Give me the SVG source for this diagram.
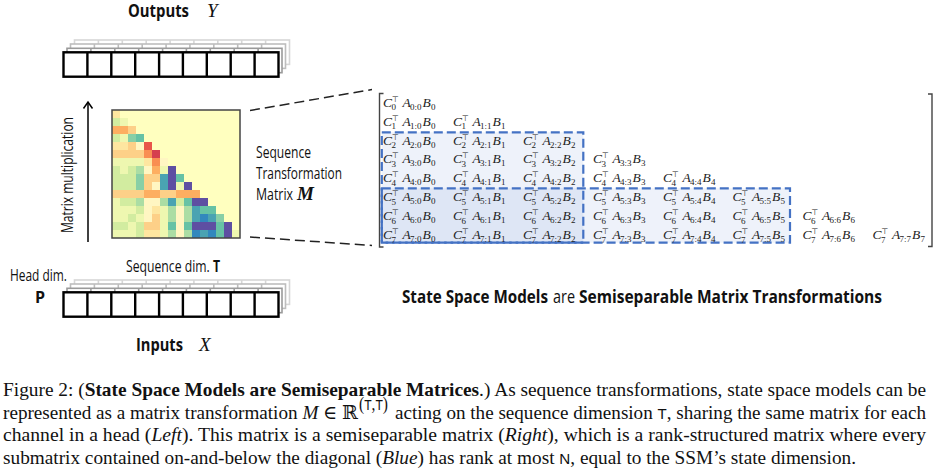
<svg xmlns="http://www.w3.org/2000/svg" xmlns:xlink="http://www.w3.org/1999/xlink" width="938" height="470" viewBox="0 0 938 470">
<style>
.sans{font-family:"Open Sans","DejaVu Sans",sans-serif}
.bold{font-weight:bold}
.lbl{font-family:"Open Sans","DejaVu Sans",sans-serif;font-size:16px;fill:#111}
.var{font-family:"Liberation Serif","DejaVu Serif",serif;font-style:italic;font-size:19px;fill:#111}
.m{font-family:"Liberation Serif","DejaVu Serif",serif;font-style:italic;font-size:13.5px;fill:#222}
.m .s{font-style:normal;font-size:9px}
.m .tp{font-style:normal;font-family:"DejaVu Sans",sans-serif;font-size:8px}
.cap{font-family:"Liberation Serif","DejaVu Serif",serif;font-size:19px;fill:#111}
.sf{font-family:"Liberation Sans","DejaVu Sans",sans-serif;font-size:15px}
.R1{fill:#d53e4f}.R2{fill:#e8554a}.O{fill:#f98e52}.O2{fill:#fdae61}.LO{fill:#fdd088}.PY{fill:#fee6a0}.LY{fill:#fff6c2}.YG{fill:#eef7b0}.LG{fill:#d2eca0}.G{fill:#abdda4}.TG{fill:#88cfa6}.T{fill:#66c2a5}.TB{fill:#4aa3b2}.B{fill:#3288bd}.P{fill:#5e4fa2}
.blk{fill:rgba(68,114,196,0.09);stroke:#4472c4;stroke-width:2.2;stroke-dasharray:9 4}
.dash{stroke:#222;stroke-width:1.5;stroke-dasharray:10 5;fill:none}
</style>
<defs>
<g id="row9">
<rect x="0" y="0" width="215" height="24.4"/>
<path d="M23.9 0v24.4M47.8 0v24.4M71.7 0v24.4M95.6 0v24.4M119.4 0v24.4M143.3 0v24.4M167.2 0v24.4M191.1 0v24.4"/>
</g>
<g id="tensor">
<use xlink:href="#row9" transform="translate(11,-12.3)" fill="#fff" stroke="#d6d6d6" stroke-width="1.6"/>
<use xlink:href="#row9" transform="translate(7,-8.3)" fill="#fff" stroke="#bdbdbd" stroke-width="1.6"/>
<use xlink:href="#row9" transform="translate(3.5,-4)" fill="#fff" stroke="#9a9a9a" stroke-width="1.6"/>
<use xlink:href="#row9" fill="#fff" stroke="#000" stroke-width="2.4"/>
</g>
</defs>

<g id="outputs">
<text class="sans bold" x="128" y="17" font-size="18" textLength="61" lengthAdjust="spacingAndGlyphs" fill="#111">Outputs</text>
<text class="var" x="207" y="17">Y</text>
<use xlink:href="#tensor" transform="translate(63.5,52.3)"/>
</g>

<g id="inputs">
<text class="lbl" x="126" y="272" textLength="94" lengthAdjust="spacingAndGlyphs">Sequence dim. <tspan class="bold">T</tspan></text>
<text class="lbl" x="10" y="280.5" font-size="15" textLength="57" lengthAdjust="spacingAndGlyphs">Head dim.</text>
<text class="lbl bold" x="35" y="302.5">P</text>
<use xlink:href="#tensor" transform="translate(63.5,292.3)"/>
<text class="sans bold" x="136" y="351" font-size="18" textLength="47" lengthAdjust="spacingAndGlyphs" fill="#111">Inputs</text>
<text class="var" x="199" y="351">X</text>
</g>

<g id="matmul">
<line x1="88" y1="242" x2="88" y2="102.5" stroke="#000" stroke-width="1.5"/>
<polyline points="83.5,108.5 88,102 92.5,108.5" fill="none" stroke="#000" stroke-width="1.5"/>
<text class="lbl" font-size="14.5" transform="translate(73,175) rotate(-90)" text-anchor="middle" textLength="116" lengthAdjust="spacingAndGlyphs">Matrix multiplication</text>
</g>

<g id="heatmap">
<rect x="112" y="110" width="128" height="128" fill="#ffffbf"/>
<g>
<rect class="PY" x="112" y="110" width="8" height="8"/>
<rect class="LG" x="112" y="118" width="8" height="8"/><rect class="YG" x="120" y="118" width="8" height="8"/>
<rect class="O2" x="112" y="126" width="8" height="8"/><rect class="O2" x="120" y="126" width="8" height="8"/><rect class="LO" x="128" y="126" width="8" height="8"/>
<rect class="LG" x="112" y="134" width="8" height="8"/><rect class="YG" x="120" y="134" width="8" height="8"/><rect class="TG" x="128" y="134" width="8" height="8"/><rect class="T" x="136" y="134" width="8" height="8"/>
<rect class="PY" x="112" y="142" width="8" height="8"/><rect class="PY" x="120" y="142" width="8" height="8"/><rect class="LO" x="128" y="142" width="8" height="8"/><rect class="LY" x="136" y="142" width="8" height="8"/><rect class="R2" x="144" y="142" width="8" height="8"/>
<rect class="LO" x="112" y="150" width="8" height="8"/><rect class="LO" x="120" y="150" width="8" height="8"/><rect class="LO" x="128" y="150" width="8" height="8"/><rect class="LO" x="136" y="150" width="8" height="8"/><rect class="O" x="144" y="150" width="8" height="8"/><rect class="R1" x="152" y="150" width="8" height="8"/>
<rect class="YG" x="112" y="158" width="8" height="8"/><rect class="YG" x="120" y="158" width="8" height="8"/><rect class="YG" x="128" y="158" width="8" height="8"/><rect class="YG" x="136" y="158" width="8" height="8"/><rect class="PY" x="144" y="158" width="8" height="8"/><rect class="O" x="152" y="158" width="8" height="8"/><rect class="LY" x="160" y="158" width="8" height="8"/>
<rect class="LG" x="112" y="166" width="8" height="8"/><rect class="YG" x="120" y="166" width="8" height="8"/><rect class="LG" x="128" y="166" width="8" height="8"/><rect class="G" x="136" y="166" width="8" height="8"/><rect class="LY" x="144" y="166" width="8" height="8"/><rect class="O2" x="152" y="166" width="8" height="8"/><rect class="YG" x="160" y="166" width="8" height="8"/><rect class="P" x="168" y="166" width="8" height="8"/>
<rect class="LG" x="112" y="174" width="8" height="8"/><rect class="LG" x="120" y="174" width="8" height="8"/><rect class="LG" x="128" y="174" width="8" height="8"/><rect class="TG" x="136" y="174" width="8" height="8"/><rect class="LO" x="144" y="174" width="8" height="8"/><rect class="LO" x="152" y="174" width="8" height="8"/><rect class="TB" x="160" y="174" width="8" height="8"/><rect class="P" x="168" y="174" width="8" height="8"/><rect class="T" x="176" y="174" width="8" height="8"/>
<rect class="LG" x="112" y="182" width="8" height="8"/><rect class="LG" x="120" y="182" width="8" height="8"/><rect class="LG" x="128" y="182" width="8" height="8"/><rect class="TG" x="136" y="182" width="8" height="8"/><rect class="LO" x="144" y="182" width="8" height="8"/><rect class="LY" x="152" y="182" width="8" height="8"/><rect class="TB" x="160" y="182" width="8" height="8"/><rect class="P" x="168" y="182" width="8" height="8"/><rect class="YG" x="176" y="182" width="8" height="8"/><rect class="P" x="184" y="182" width="8" height="8"/>
<rect class="LO" x="112" y="190" width="8" height="8"/><rect class="LO" x="120" y="190" width="8" height="8"/><rect class="LO" x="128" y="190" width="8" height="8"/><rect class="LO" x="136" y="190" width="8" height="8"/><rect class="O2" x="144" y="190" width="8" height="8"/><rect class="O2" x="152" y="190" width="8" height="8"/><rect class="LO" x="160" y="190" width="8" height="8"/><rect class="LO" x="168" y="190" width="8" height="8"/><rect class="O2" x="176" y="190" width="8" height="8"/><rect class="O2" x="184" y="190" width="8" height="8"/><rect class="O2" x="192" y="190" width="8" height="8"/>
<rect class="YG" x="112" y="198" width="8" height="8"/><rect class="LG" x="120" y="198" width="8" height="8"/><rect class="LG" x="128" y="198" width="8" height="8"/><rect class="G" x="136" y="198" width="8" height="8"/><rect class="LY" x="144" y="198" width="8" height="8"/><rect class="LY" x="152" y="198" width="8" height="8"/><rect class="G" x="160" y="198" width="8" height="8"/><rect class="TB" x="168" y="198" width="8" height="8"/><rect class="LG" x="176" y="198" width="8" height="8"/><rect class="T" x="184" y="198" width="8" height="8"/><rect class="P" x="192" y="198" width="8" height="8"/><rect class="P" x="200" y="198" width="8" height="8"/>
<rect class="YG" x="112" y="206" width="8" height="8"/><rect class="YG" x="120" y="206" width="8" height="8"/><rect class="YG" x="128" y="206" width="8" height="8"/><rect class="LG" x="136" y="206" width="8" height="8"/><rect class="LY" x="144" y="206" width="8" height="8"/><rect class="PY" x="152" y="206" width="8" height="8"/><rect class="YG" x="160" y="206" width="8" height="8"/><rect class="G" x="168" y="206" width="8" height="8"/><rect class="LY" x="176" y="206" width="8" height="8"/><rect class="G" x="184" y="206" width="8" height="8"/><rect class="TB" x="192" y="206" width="8" height="8"/><rect class="T" x="200" y="206" width="8" height="8"/><rect class="T" x="208" y="206" width="8" height="8"/>
<rect class="YG" x="112" y="214" width="8" height="8"/><rect class="YG" x="120" y="214" width="8" height="8"/><rect class="LG" x="128" y="214" width="8" height="8"/><rect class="YG" x="136" y="214" width="8" height="8"/><rect class="LY" x="144" y="214" width="8" height="8"/><rect class="LO" x="152" y="214" width="8" height="8"/><rect class="YG" x="160" y="214" width="8" height="8"/><rect class="G" x="168" y="214" width="8" height="8"/><rect class="LY" x="176" y="214" width="8" height="8"/><rect class="G" x="184" y="214" width="8" height="8"/><rect class="TB" x="192" y="214" width="8" height="8"/><rect class="B" x="200" y="214" width="8" height="8"/><rect class="TB" x="208" y="214" width="8" height="8"/><rect class="TG" x="216" y="214" width="8" height="8"/>
<rect class="LG" x="112" y="222" width="8" height="8"/><rect class="LG" x="120" y="222" width="8" height="8"/><rect class="YG" x="128" y="222" width="8" height="8"/><rect class="LG" x="136" y="222" width="8" height="8"/><rect class="LO" x="144" y="222" width="8" height="8"/><rect class="LO" x="152" y="222" width="8" height="8"/><rect class="YG" x="160" y="222" width="8" height="8"/><rect class="T" x="168" y="222" width="8" height="8"/><rect class="LY" x="176" y="222" width="8" height="8"/><rect class="T" x="184" y="222" width="8" height="8"/><rect class="P" x="192" y="222" width="8" height="8"/><rect class="P" x="200" y="222" width="8" height="8"/><rect class="P" x="208" y="222" width="8" height="8"/><rect class="T" x="216" y="222" width="8" height="8"/><rect class="P" x="224" y="222" width="8" height="8"/>
<rect class="YG" x="112" y="230" width="8" height="8"/><rect class="YG" x="120" y="230" width="8" height="8"/><rect class="YG" x="128" y="230" width="8" height="8"/><rect class="LG" x="136" y="230" width="8" height="8"/><rect class="PY" x="144" y="230" width="8" height="8"/><rect class="PY" x="152" y="230" width="8" height="8"/><rect class="YG" x="160" y="230" width="8" height="8"/><rect class="G" x="168" y="230" width="8" height="8"/><rect class="LY" x="176" y="230" width="8" height="8"/><rect class="G" x="184" y="230" width="8" height="8"/><rect class="B" x="192" y="230" width="8" height="8"/><rect class="TB" x="200" y="230" width="8" height="8"/><rect class="B" x="208" y="230" width="8" height="8"/><rect class="T" x="216" y="230" width="8" height="8"/><rect class="P" x="224" y="230" width="8" height="8"/><rect class="YG" x="232" y="230" width="8" height="8"/>
</g>
<rect x="112" y="110" width="128" height="128" fill="none" stroke="#444" stroke-width="1.5"/>
</g>

<g id="mlabel">
<text class="lbl" x="256" y="158" textLength="55" lengthAdjust="spacingAndGlyphs">Sequence</text>
<text class="lbl" x="256" y="179" textLength="86" lengthAdjust="spacingAndGlyphs">Transformation</text>
<text class="lbl" x="256" y="200" textLength="37" lengthAdjust="spacingAndGlyphs">Matrix</text>
<text class="var" x="297" y="200" font-weight="bold" font-size="18">M</text>
</g>

<g id="connectors">
<line class="dash" x1="250" y1="110.5" x2="372" y2="89.5"/>
<line class="dash" x1="250" y1="237" x2="372" y2="245.5"/>
</g>

<g id="semisep">
<path d="M383.5 93.5h-4v153.5h4M928 94h4v152.5h-4" fill="none" stroke="#444" stroke-width="1.4"/>
<rect class="blk" x="381.8" y="132.3" width="201.5" height="110.4"/>
<rect class="blk" x="381.8" y="188.3" width="408.2" height="54.4"/>
<g id="entries">
<g transform="translate(383,106.5)"><text class="m">C<tspan class="tp" x="9" y="-5">⊤</tspan><tspan class="s" x="8.5" y="3.5">0</tspan><tspan x="19.5" y="0">A</tspan><tspan class="s" x="27" y="3">0:0</tspan><tspan x="39.5" y="0">B</tspan><tspan class="s" x="48" y="3">0</tspan></text></g>
<g transform="translate(383,125.5)"><text class="m">C<tspan class="tp" x="9" y="-5">⊤</tspan><tspan class="s" x="8.5" y="3.5">1</tspan><tspan x="19.5" y="0">A</tspan><tspan class="s" x="27" y="3">1:0</tspan><tspan x="39.5" y="0">B</tspan><tspan class="s" x="48" y="3">0</tspan></text></g>
<g transform="translate(453,125.5)"><text class="m">C<tspan class="tp" x="9" y="-5">⊤</tspan><tspan class="s" x="8.5" y="3.5">1</tspan><tspan x="19.5" y="0">A</tspan><tspan class="s" x="27" y="3">1:1</tspan><tspan x="39.5" y="0">B</tspan><tspan class="s" x="48" y="3">1</tspan></text></g>
<g transform="translate(383,144.5)"><text class="m">C<tspan class="tp" x="9" y="-5">⊤</tspan><tspan class="s" x="8.5" y="3.5">2</tspan><tspan x="19.5" y="0">A</tspan><tspan class="s" x="27" y="3">2:0</tspan><tspan x="39.5" y="0">B</tspan><tspan class="s" x="48" y="3">0</tspan></text></g>
<g transform="translate(453,144.5)"><text class="m">C<tspan class="tp" x="9" y="-5">⊤</tspan><tspan class="s" x="8.5" y="3.5">2</tspan><tspan x="19.5" y="0">A</tspan><tspan class="s" x="27" y="3">2:1</tspan><tspan x="39.5" y="0">B</tspan><tspan class="s" x="48" y="3">1</tspan></text></g>
<g transform="translate(523,144.5)"><text class="m">C<tspan class="tp" x="9" y="-5">⊤</tspan><tspan class="s" x="8.5" y="3.5">2</tspan><tspan x="19.5" y="0">A</tspan><tspan class="s" x="27" y="3">2:2</tspan><tspan x="39.5" y="0">B</tspan><tspan class="s" x="48" y="3">2</tspan></text></g>
<g transform="translate(383,163)"><text class="m">C<tspan class="tp" x="9" y="-5">⊤</tspan><tspan class="s" x="8.5" y="3.5">3</tspan><tspan x="19.5" y="0">A</tspan><tspan class="s" x="27" y="3">3:0</tspan><tspan x="39.5" y="0">B</tspan><tspan class="s" x="48" y="3">0</tspan></text></g>
<g transform="translate(453,163)"><text class="m">C<tspan class="tp" x="9" y="-5">⊤</tspan><tspan class="s" x="8.5" y="3.5">3</tspan><tspan x="19.5" y="0">A</tspan><tspan class="s" x="27" y="3">3:1</tspan><tspan x="39.5" y="0">B</tspan><tspan class="s" x="48" y="3">1</tspan></text></g>
<g transform="translate(523,163)"><text class="m">C<tspan class="tp" x="9" y="-5">⊤</tspan><tspan class="s" x="8.5" y="3.5">3</tspan><tspan x="19.5" y="0">A</tspan><tspan class="s" x="27" y="3">3:2</tspan><tspan x="39.5" y="0">B</tspan><tspan class="s" x="48" y="3">2</tspan></text></g>
<g transform="translate(593,163)"><text class="m">C<tspan class="tp" x="9" y="-5">⊤</tspan><tspan class="s" x="8.5" y="3.5">3</tspan><tspan x="19.5" y="0">A</tspan><tspan class="s" x="27" y="3">3:3</tspan><tspan x="39.5" y="0">B</tspan><tspan class="s" x="48" y="3">3</tspan></text></g>
<g transform="translate(383,182)"><text class="m">C<tspan class="tp" x="9" y="-5">⊤</tspan><tspan class="s" x="8.5" y="3.5">4</tspan><tspan x="19.5" y="0">A</tspan><tspan class="s" x="27" y="3">4:0</tspan><tspan x="39.5" y="0">B</tspan><tspan class="s" x="48" y="3">0</tspan></text></g>
<g transform="translate(453,182)"><text class="m">C<tspan class="tp" x="9" y="-5">⊤</tspan><tspan class="s" x="8.5" y="3.5">4</tspan><tspan x="19.5" y="0">A</tspan><tspan class="s" x="27" y="3">4:1</tspan><tspan x="39.5" y="0">B</tspan><tspan class="s" x="48" y="3">1</tspan></text></g>
<g transform="translate(523,182)"><text class="m">C<tspan class="tp" x="9" y="-5">⊤</tspan><tspan class="s" x="8.5" y="3.5">4</tspan><tspan x="19.5" y="0">A</tspan><tspan class="s" x="27" y="3">4:2</tspan><tspan x="39.5" y="0">B</tspan><tspan class="s" x="48" y="3">2</tspan></text></g>
<g transform="translate(593,182)"><text class="m">C<tspan class="tp" x="9" y="-5">⊤</tspan><tspan class="s" x="8.5" y="3.5">4</tspan><tspan x="19.5" y="0">A</tspan><tspan class="s" x="27" y="3">4:3</tspan><tspan x="39.5" y="0">B</tspan><tspan class="s" x="48" y="3">3</tspan></text></g>
<g transform="translate(663,182)"><text class="m">C<tspan class="tp" x="9" y="-5">⊤</tspan><tspan class="s" x="8.5" y="3.5">4</tspan><tspan x="19.5" y="0">A</tspan><tspan class="s" x="27" y="3">4:4</tspan><tspan x="39.5" y="0">B</tspan><tspan class="s" x="48" y="3">4</tspan></text></g>
<g transform="translate(383,201)"><text class="m">C<tspan class="tp" x="9" y="-5">⊤</tspan><tspan class="s" x="8.5" y="3.5">5</tspan><tspan x="19.5" y="0">A</tspan><tspan class="s" x="27" y="3">5:0</tspan><tspan x="39.5" y="0">B</tspan><tspan class="s" x="48" y="3">0</tspan></text></g>
<g transform="translate(453,201)"><text class="m">C<tspan class="tp" x="9" y="-5">⊤</tspan><tspan class="s" x="8.5" y="3.5">5</tspan><tspan x="19.5" y="0">A</tspan><tspan class="s" x="27" y="3">5:1</tspan><tspan x="39.5" y="0">B</tspan><tspan class="s" x="48" y="3">1</tspan></text></g>
<g transform="translate(523,201)"><text class="m">C<tspan class="tp" x="9" y="-5">⊤</tspan><tspan class="s" x="8.5" y="3.5">5</tspan><tspan x="19.5" y="0">A</tspan><tspan class="s" x="27" y="3">5:2</tspan><tspan x="39.5" y="0">B</tspan><tspan class="s" x="48" y="3">2</tspan></text></g>
<g transform="translate(593,201)"><text class="m">C<tspan class="tp" x="9" y="-5">⊤</tspan><tspan class="s" x="8.5" y="3.5">5</tspan><tspan x="19.5" y="0">A</tspan><tspan class="s" x="27" y="3">5:3</tspan><tspan x="39.5" y="0">B</tspan><tspan class="s" x="48" y="3">3</tspan></text></g>
<g transform="translate(663,201)"><text class="m">C<tspan class="tp" x="9" y="-5">⊤</tspan><tspan class="s" x="8.5" y="3.5">5</tspan><tspan x="19.5" y="0">A</tspan><tspan class="s" x="27" y="3">5:4</tspan><tspan x="39.5" y="0">B</tspan><tspan class="s" x="48" y="3">4</tspan></text></g>
<g transform="translate(732.5,201)"><text class="m">C<tspan class="tp" x="9" y="-5">⊤</tspan><tspan class="s" x="8.5" y="3.5">5</tspan><tspan x="19.5" y="0">A</tspan><tspan class="s" x="27" y="3">5:5</tspan><tspan x="39.5" y="0">B</tspan><tspan class="s" x="48" y="3">5</tspan></text></g>
<g transform="translate(383,220)"><text class="m">C<tspan class="tp" x="9" y="-5">⊤</tspan><tspan class="s" x="8.5" y="3.5">6</tspan><tspan x="19.5" y="0">A</tspan><tspan class="s" x="27" y="3">6:0</tspan><tspan x="39.5" y="0">B</tspan><tspan class="s" x="48" y="3">0</tspan></text></g>
<g transform="translate(453,220)"><text class="m">C<tspan class="tp" x="9" y="-5">⊤</tspan><tspan class="s" x="8.5" y="3.5">6</tspan><tspan x="19.5" y="0">A</tspan><tspan class="s" x="27" y="3">6:1</tspan><tspan x="39.5" y="0">B</tspan><tspan class="s" x="48" y="3">1</tspan></text></g>
<g transform="translate(523,220)"><text class="m">C<tspan class="tp" x="9" y="-5">⊤</tspan><tspan class="s" x="8.5" y="3.5">6</tspan><tspan x="19.5" y="0">A</tspan><tspan class="s" x="27" y="3">6:2</tspan><tspan x="39.5" y="0">B</tspan><tspan class="s" x="48" y="3">2</tspan></text></g>
<g transform="translate(593,220)"><text class="m">C<tspan class="tp" x="9" y="-5">⊤</tspan><tspan class="s" x="8.5" y="3.5">6</tspan><tspan x="19.5" y="0">A</tspan><tspan class="s" x="27" y="3">6:3</tspan><tspan x="39.5" y="0">B</tspan><tspan class="s" x="48" y="3">3</tspan></text></g>
<g transform="translate(663,220)"><text class="m">C<tspan class="tp" x="9" y="-5">⊤</tspan><tspan class="s" x="8.5" y="3.5">6</tspan><tspan x="19.5" y="0">A</tspan><tspan class="s" x="27" y="3">6:4</tspan><tspan x="39.5" y="0">B</tspan><tspan class="s" x="48" y="3">4</tspan></text></g>
<g transform="translate(732.5,220)"><text class="m">C<tspan class="tp" x="9" y="-5">⊤</tspan><tspan class="s" x="8.5" y="3.5">6</tspan><tspan x="19.5" y="0">A</tspan><tspan class="s" x="27" y="3">6:5</tspan><tspan x="39.5" y="0">B</tspan><tspan class="s" x="48" y="3">5</tspan></text></g>
<g transform="translate(802.5,220)"><text class="m">C<tspan class="tp" x="9" y="-5">⊤</tspan><tspan class="s" x="8.5" y="3.5">6</tspan><tspan x="19.5" y="0">A</tspan><tspan class="s" x="27" y="3">6:6</tspan><tspan x="39.5" y="0">B</tspan><tspan class="s" x="48" y="3">6</tspan></text></g>
<g transform="translate(383,239)"><text class="m">C<tspan class="tp" x="9" y="-5">⊤</tspan><tspan class="s" x="8.5" y="3.5">7</tspan><tspan x="19.5" y="0">A</tspan><tspan class="s" x="27" y="3">7:0</tspan><tspan x="39.5" y="0">B</tspan><tspan class="s" x="48" y="3">0</tspan></text></g>
<g transform="translate(453,239)"><text class="m">C<tspan class="tp" x="9" y="-5">⊤</tspan><tspan class="s" x="8.5" y="3.5">7</tspan><tspan x="19.5" y="0">A</tspan><tspan class="s" x="27" y="3">7:1</tspan><tspan x="39.5" y="0">B</tspan><tspan class="s" x="48" y="3">1</tspan></text></g>
<g transform="translate(523,239)"><text class="m">C<tspan class="tp" x="9" y="-5">⊤</tspan><tspan class="s" x="8.5" y="3.5">7</tspan><tspan x="19.5" y="0">A</tspan><tspan class="s" x="27" y="3">7:2</tspan><tspan x="39.5" y="0">B</tspan><tspan class="s" x="48" y="3">2</tspan></text></g>
<g transform="translate(593,239)"><text class="m">C<tspan class="tp" x="9" y="-5">⊤</tspan><tspan class="s" x="8.5" y="3.5">7</tspan><tspan x="19.5" y="0">A</tspan><tspan class="s" x="27" y="3">7:3</tspan><tspan x="39.5" y="0">B</tspan><tspan class="s" x="48" y="3">3</tspan></text></g>
<g transform="translate(663,239)"><text class="m">C<tspan class="tp" x="9" y="-5">⊤</tspan><tspan class="s" x="8.5" y="3.5">7</tspan><tspan x="19.5" y="0">A</tspan><tspan class="s" x="27" y="3">7:4</tspan><tspan x="39.5" y="0">B</tspan><tspan class="s" x="48" y="3">4</tspan></text></g>
<g transform="translate(732.5,239)"><text class="m">C<tspan class="tp" x="9" y="-5">⊤</tspan><tspan class="s" x="8.5" y="3.5">7</tspan><tspan x="19.5" y="0">A</tspan><tspan class="s" x="27" y="3">7:5</tspan><tspan x="39.5" y="0">B</tspan><tspan class="s" x="48" y="3">5</tspan></text></g>
<g transform="translate(802.5,239)"><text class="m">C<tspan class="tp" x="9" y="-5">⊤</tspan><tspan class="s" x="8.5" y="3.5">7</tspan><tspan x="19.5" y="0">A</tspan><tspan class="s" x="27" y="3">7:6</tspan><tspan x="39.5" y="0">B</tspan><tspan class="s" x="48" y="3">6</tspan></text></g>
<g transform="translate(872.5,239)"><text class="m">C<tspan class="tp" x="9" y="-5">⊤</tspan><tspan class="s" x="8.5" y="3.5">7</tspan><tspan x="19.5" y="0">A</tspan><tspan class="s" x="27" y="3">7:7</tspan><tspan x="39.5" y="0">B</tspan><tspan class="s" x="48" y="3">7</tspan></text></g>
</g>
</g>

<g id="title">
<text class="sans bold" x="402" y="303" font-size="18" textLength="146" lengthAdjust="spacingAndGlyphs" fill="#111">State Space Models</text>
<text class="sans" x="553" y="303" font-size="18" textLength="22" lengthAdjust="spacingAndGlyphs" fill="#111">are</text>
<text class="sans bold" x="579" y="303" font-size="18" textLength="303" lengthAdjust="spacingAndGlyphs" fill="#111">Semiseparable Matrix Transformations</text>
</g>

<g id="caption">
<text class="cap" x="3" y="396" textLength="923" lengthAdjust="spacingAndGlyphs">Figure 2: (<tspan font-weight="bold">State Space Models are Semiseparable Matrices</tspan>.) As sequence transformations, state space models can be</text>
<text class="cap" x="3" y="418.5" textLength="355" lengthAdjust="spacingAndGlyphs">represented as a matrix transformation <tspan font-style="italic">M</tspan> ∈ ℝ</text>
<text class="cap" x="359" y="410" font-size="12" textLength="29" lengthAdjust="spacingAndGlyphs">(<tspan class="sf" font-size="10">T</tspan>,<tspan class="sf" font-size="10">T</tspan>)</text>
<text class="cap" x="395" y="418.5" textLength="531" lengthAdjust="spacingAndGlyphs">acting on the sequence dimension <tspan class="sf">T</tspan>, sharing the same matrix for each</text>
<text class="cap" x="3" y="441" textLength="923" lengthAdjust="spacingAndGlyphs">channel in a head (<tspan font-style="italic">Left</tspan>).  This matrix is a semiseparable matrix (<tspan font-style="italic">Right</tspan>), which is a rank-structured matrix where every</text>
<text class="cap" x="3" y="463.5" textLength="853" lengthAdjust="spacingAndGlyphs">submatrix contained on-and-below the diagonal (<tspan font-style="italic">Blue</tspan>) has rank at most <tspan class="sf">N</tspan>, equal to the SSM’s state dimension.</text>
</g>
</svg>
